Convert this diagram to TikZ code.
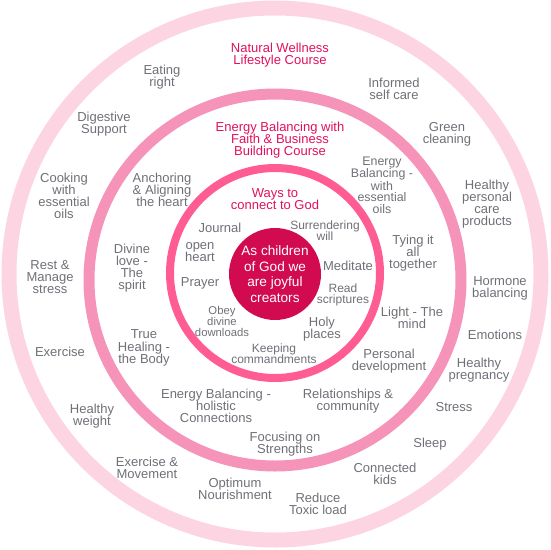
\documentclass[tikz,border=0pt]{standalone}
\usepackage{fontspec}
\setmainfont{Liberation Sans}
\usepackage{xcolor}
\usetikzlibrary{positioning}

\definecolor{ringlight}{HTML}{FDD5E2}
\definecolor{ringmid}{HTML}{F593B8}
\definecolor{ringhot}{HTML}{FF5C94}
\definecolor{corered}{HTML}{D20A50}
\definecolor{titlered}{HTML}{E0105E}
\definecolor{labelgray}{HTML}{6F6F78}

\begin{document}
\begin{tikzpicture}[
    x=1pt, y=-1pt,
    ring/.style={circle, draw, fill=none, inner sep=0pt, outer sep=0pt},
    heading/.style={align=center, text=titlered, font=\fontsize{13}{12.2}\selectfont, inner sep=0pt},
    item/.style={align=center, text=labelgray, font=\fontsize{13}{12.2}\selectfont, inner sep=0pt},
    smallitem/.style={item, font=\fontsize{12}{11.2}\selectfont},
    tinyitem/.style={item, font=\fontsize{11.3}{10.4}\selectfont},
    core/.style={circle, fill=corered, text=white, align=center, font=\fontsize{13.6}{15.5}\selectfont, minimum size=92pt, inner sep=0pt}
]
\useasboundingbox (0,0) rectangle (550,550);

% rings
\node[ring, draw=ringlight, line width=15pt, minimum size=532pt] (outerring) at (275,274) {};
\node[ring, draw=ringmid, line width=11pt, minimum size=372pt] (midring) at (275,280) {};
\node[ring, draw=ringhot, line width=8pt, minimum size=210pt] (innerring) at (275,273) {};
\node[core] (core) at (275,274) {As children\\of God we\\are joyful\\creators};

% outer ring: lifestyle course
\node[heading] (lifestyle) at (280,55) {Natural Wellness\\Lifestyle Course};
\node[item] (eating) at (162,77) {Eating\\right};
\node[item] (selfcare) at (394,89) {Informed\\self care};
\node[item] (digestive) at (104,124) {Digestive\\Support};
\node[item] (green) at (447,134) {Green\\cleaning};
\node[item] (cooking) at (64,196) {Cooking\\with\\essential\\oils};
\node[item] (personalcare) at (487,204) {Healthy\\personal\\care\\products};
\node[item] (rest) at (50,277) {Rest \&\\Manage\\stress};
\node[item] (hormone) at (500,288) {Hormone\\balancing};
\node[item] (exercise) at (60,352) {Exercise};
\node[item] (emotions) at (495,335) {Emotions};
\node[item] (pregnancy) at (479,370) {Healthy\\pregnancy};
\node[item] (weight) at (92,416) {Healthy\\weight};
\node[item] (stress) at (454,407) {Stress};
\node[item] (movement) at (147,468) {Exercise \&\\Movement};
\node[item] (sleep) at (430,444) {Sleep};
\node[item] (nourish) at (235,489) {Optimum\\Nourishment};
\node[item] (kids) at (385,474) {Connected\\kids};
\node[item] (toxic) at (318,504) {Reduce\\Toxic load};

% middle ring: energy balancing course
\node[heading] (business) at (280,140) {Energy Balancing with\\Faith \& Business\\Building Course};
\node[item] (anchoring) at (162,190) {Anchoring\\\& Aligning\\the heart};
\node[item, font=\fontsize{12.4}{11.3}\selectfont] (eboils) at (382,185) {Energy\\Balancing -\\with\\essential\\oils};
\node[item] (divine) at (132,268) {Divine\\love -\\The\\spirit};
\node[item] (tying) at (413,253) {Tying it\\all\\together};
\node[item] (light) at (412,318) {Light - The\\mind};
\node[item] (healing) at (144,348) {True\\Healing -\\the Body};
\node[item] (personal) at (389,361) {Personal\\development};
\node[item] (holistic) at (216,406) {Energy Balancing -\\holistic\\Connections};
\node[item] (relations) at (348,401) {Relationships \&\\community};
\node[item] (strengths) at (285,444) {Focusing on\\Strengths};

% inner ring: ways to connect
\node[heading] (ways) at (275,199) {Ways to\\connect to God};
\node[item] (journal) at (220,228) {Journal};
\node[smallitem] (surrender) at (325,231) {Surrendering\\will};
\node[item] (openheart) at (200,252) {open\\heart};
\node[item] (meditate) at (348,266) {Meditate};
\node[item] (prayer) at (200,283) {Prayer};
\node[smallitem] (scriptures) at (343,295) {Read\\scriptures};
\node[tinyitem] (obey) at (222,321) {Obey\\divine\\downloads};
\node[item] (holy) at (322,329) {Holy\\places};
\node[smallitem] (keeping) at (274,354) {Keeping\\commandments};
\end{tikzpicture}
\end{document}
